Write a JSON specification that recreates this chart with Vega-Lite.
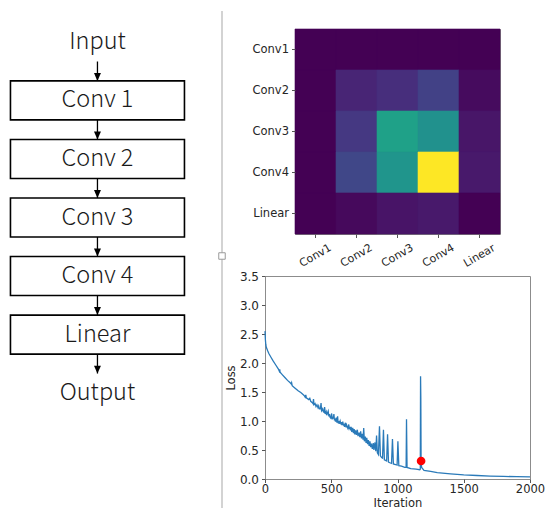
{
  "$schema": "https://vega.github.io/schema/vega-lite/v6.json",
  "padding": {"left": 0, "top": 10, "right": 0, "bottom": 0},
  "background": "white",
  "config": {
    "view": {"stroke": null},
    "font": "DejaVu Sans",
    "axis": {
      "labelFont": "DejaVu Sans",
      "titleFont": "DejaVu Sans",
      "labelColor": "#262626",
      "titleColor": "#262626",
      "tickColor": "#555555",
      "titleFontWeight": "normal",
      "grid": false,
      "domain": false
    }
  },
  "datasets": {
    "nodes": [
      {"node": "Input", "kind": "io"},
      {"node": "Conv 1", "kind": "box"},
      {"node": "Conv 2", "kind": "box"},
      {"node": "Conv 3", "kind": "box"},
      {"node": "Conv 4", "kind": "box"},
      {"node": "Linear", "kind": "box"},
      {"node": "Output", "kind": "io"}
    ],
    "edges": [
      {"from": "Input", "to": "Conv 1"},
      {"from": "Conv 1", "to": "Conv 2"},
      {"from": "Conv 2", "to": "Conv 3"},
      {"from": "Conv 3", "to": "Conv 4"},
      {"from": "Conv 4", "to": "Linear"},
      {"from": "Linear", "to": "Output"}
    ],
    "heat": [
      {"row": "Conv1", "col": "Conv1", "value": 0.0},
      {"row": "Conv1", "col": "Conv2", "value": 0.0},
      {"row": "Conv1", "col": "Conv3", "value": 0.0},
      {"row": "Conv1", "col": "Conv4", "value": 0.0},
      {"row": "Conv1", "col": "Linear", "value": 0.0},
      {"row": "Conv2", "col": "Conv1", "value": 0.0},
      {"row": "Conv2", "col": "Conv2", "value": 0.1},
      {"row": "Conv2", "col": "Conv3", "value": 0.13},
      {"row": "Conv2", "col": "Conv4", "value": 0.19},
      {"row": "Conv2", "col": "Linear", "value": 0.025},
      {"row": "Conv3", "col": "Conv1", "value": 0.0},
      {"row": "Conv3", "col": "Conv2", "value": 0.16},
      {"row": "Conv3", "col": "Conv3", "value": 0.57},
      {"row": "Conv3", "col": "Conv4", "value": 0.5},
      {"row": "Conv3", "col": "Linear", "value": 0.055},
      {"row": "Conv4", "col": "Conv1", "value": 0.0},
      {"row": "Conv4", "col": "Conv2", "value": 0.21},
      {"row": "Conv4", "col": "Conv3", "value": 0.52},
      {"row": "Conv4", "col": "Conv4", "value": 1.0},
      {"row": "Conv4", "col": "Linear", "value": 0.065},
      {"row": "Linear", "col": "Conv1", "value": 0.0},
      {"row": "Linear", "col": "Conv2", "value": 0.02},
      {"row": "Linear", "col": "Conv3", "value": 0.05},
      {"row": "Linear", "col": "Conv4", "value": 0.065},
      {"row": "Linear", "col": "Linear", "value": 0.0}
    ],
    "loss": [
      {"iter": 0, "loss": 2.55}, {"iter": 3, "loss": 2.4}, {"iter": 6, "loss": 2.32}, {"iter": 10, "loss": 2.27},
      {"iter": 20, "loss": 2.21}, {"iter": 30, "loss": 2.16}, {"iter": 45, "loss": 2.1}, {"iter": 60, "loss": 2.04},
      {"iter": 80, "loss": 1.97}, {"iter": 100, "loss": 1.9}, {"iter": 108, "loss": 1.86}, {"iter": 111, "loss": 1.89},
      {"iter": 114, "loss": 1.84}, {"iter": 130, "loss": 1.8}, {"iter": 150, "loss": 1.75}, {"iter": 170, "loss": 1.7},
      {"iter": 190, "loss": 1.66}, {"iter": 198, "loss": 1.64}, {"iter": 201, "loss": 1.66}, {"iter": 205, "loss": 1.61},
      {"iter": 225, "loss": 1.57}, {"iter": 250, "loss": 1.52}, {"iter": 270, "loss": 1.49}, {"iter": 285, "loss": 1.46},
      {"iter": 295, "loss": 1.44}, {"iter": 303, "loss": 1.41}, {"iter": 308, "loss": 1.45}, {"iter": 312, "loss": 1.4},
      {"iter": 330, "loss": 1.37}, {"iter": 338, "loss": 1.39}, {"iter": 345, "loss": 1.34}, {"iter": 355, "loss": 1.32}, {"iter": 362, "loss": 1.3},
      {"iter": 366, "loss": 1.38}, {"iter": 370, "loss": 1.28}, {"iter": 378, "loss": 1.3}, {"iter": 385, "loss": 1.25}, {"iter": 392, "loss": 1.28}, {"iter": 400, "loss": 1.23},
      {"iter": 405, "loss": 1.26}, {"iter": 410, "loss": 1.21}, {"iter": 418, "loss": 1.21}, {"iter": 423, "loss": 1.31}, {"iter": 427, "loss": 1.18},
      {"iter": 435, "loss": 1.21}, {"iter": 440, "loss": 1.16}, {"iter": 445, "loss": 1.15}, {"iter": 450, "loss": 1.24}, {"iter": 455, "loss": 1.12},
      {"iter": 462, "loss": 1.16}, {"iter": 466, "loss": 1.1}, {"iter": 470, "loss": 1.13}, {"iter": 477, "loss": 1.17}, {"iter": 482, "loss": 1.08},
      {"iter": 487, "loss": 1.12}, {"iter": 490, "loss": 1.07}, {"iter": 497, "loss": 1.05}, {"iter": 503, "loss": 1.13}, {"iter": 508, "loss": 1.03},
      {"iter": 512, "loss": 1.07}, {"iter": 515, "loss": 1.04}, {"iter": 520, "loss": 1.12}, {"iter": 524, "loss": 1.01}, {"iter": 528, "loss": 1.04}, {"iter": 532, "loss": 0.99},
      {"iter": 538, "loss": 1.06}, {"iter": 543, "loss": 0.97}, {"iter": 548, "loss": 1.08}, {"iter": 552, "loss": 0.96},
      {"iter": 556, "loss": 1.0}, {"iter": 560, "loss": 0.95}, {"iter": 567, "loss": 1.0}, {"iter": 573, "loss": 0.94}, {"iter": 577, "loss": 0.98}, {"iter": 580, "loss": 0.93},
      {"iter": 587, "loss": 0.99}, {"iter": 592, "loss": 0.92}, {"iter": 596, "loss": 0.95}, {"iter": 600, "loss": 0.9}, {"iter": 607, "loss": 0.97},
      {"iter": 612, "loss": 0.89}, {"iter": 616, "loss": 0.93}, {"iter": 620, "loss": 0.9}, {"iter": 626, "loss": 0.87}, {"iter": 632, "loss": 0.94},
      {"iter": 637, "loss": 0.86}, {"iter": 641, "loss": 0.9}, {"iter": 645, "loss": 0.84}, {"iter": 650, "loss": 0.9}, {"iter": 655, "loss": 0.81},
      {"iter": 662, "loss": 0.88}, {"iter": 668, "loss": 0.79}, {"iter": 673, "loss": 0.86}, {"iter": 678, "loss": 0.77},
      {"iter": 684, "loss": 0.84}, {"iter": 690, "loss": 0.76}, {"iter": 697, "loss": 0.85}, {"iter": 702, "loss": 0.74},
      {"iter": 710, "loss": 0.8}, {"iter": 716, "loss": 0.72}, {"iter": 722, "loss": 0.82}, {"iter": 728, "loss": 0.7},
      {"iter": 735, "loss": 0.78}, {"iter": 740, "loss": 0.68}, {"iter": 745, "loss": 0.88}, {"iter": 750, "loss": 0.65},
      {"iter": 757, "loss": 0.73}, {"iter": 763, "loss": 0.62}, {"iter": 768, "loss": 0.71}, {"iter": 774, "loss": 0.6},
      {"iter": 780, "loss": 0.67}, {"iter": 786, "loss": 0.57}, {"iter": 792, "loss": 0.65}, {"iter": 797, "loss": 0.55},
      {"iter": 803, "loss": 0.61}, {"iter": 810, "loss": 0.52}, {"iter": 817, "loss": 0.62}, {"iter": 822, "loss": 0.5},
      {"iter": 830, "loss": 0.63}, {"iter": 836, "loss": 0.48}, {"iter": 842, "loss": 0.75}, {"iter": 848, "loss": 0.45},
      {"iter": 856, "loss": 0.42}, {"iter": 864, "loss": 0.91}, {"iter": 871, "loss": 0.4}, {"iter": 880, "loss": 0.37},
      {"iter": 887, "loss": 0.36}, {"iter": 894, "loss": 0.85}, {"iter": 901, "loss": 0.33}, {"iter": 910, "loss": 0.32},
      {"iter": 918, "loss": 0.31}, {"iter": 925, "loss": 0.77}, {"iter": 932, "loss": 0.29}, {"iter": 942, "loss": 0.28},
      {"iter": 955, "loss": 0.27}, {"iter": 962, "loss": 0.69}, {"iter": 969, "loss": 0.26}, {"iter": 985, "loss": 0.25},
      {"iter": 997, "loss": 0.24}, {"iter": 1003, "loss": 0.65}, {"iter": 1010, "loss": 0.23}, {"iter": 1030, "loss": 0.22},
      {"iter": 1055, "loss": 0.2}, {"iter": 1065, "loss": 0.2}, {"iter": 1068, "loss": 1.03}, {"iter": 1072, "loss": 0.2},
      {"iter": 1100, "loss": 0.18}, {"iter": 1140, "loss": 0.17}, {"iter": 1168, "loss": 0.16}, {"iter": 1172, "loss": 0.17},
      {"iter": 1174, "loss": 1.77}, {"iter": 1176, "loss": 1.4}, {"iter": 1178, "loss": 0.3}, {"iter": 1182, "loss": 0.2},
      {"iter": 1200, "loss": 0.15}, {"iter": 1250, "loss": 0.13}, {"iter": 1300, "loss": 0.11}, {"iter": 1400, "loss": 0.09},
      {"iter": 1500, "loss": 0.07}, {"iter": 1600, "loss": 0.06}, {"iter": 1700, "loss": 0.05}, {"iter": 1800, "loss": 0.045},
      {"iter": 1900, "loss": 0.04}, {"iter": 2000, "loss": 0.035}
    ],
    "marker": [{"iter": 1178, "loss": 0.31}]
  },
  "bounds": "flush",
  "spacing": 43,
  "hconcat": [
    {
      "width": 222,
      "height": 377,
      "view": {"stroke": null},
      "resolve": {"scale": {"y": "independent"}},
      "layer": [
        {
          "data": {"values": [{"part": "separator"}]},
          "layer": [
            {
              "mark": {"type": "rule", "color": "#c4c4c4", "strokeWidth": 1.5},
              "encoding": {
                "x": {"datum": 1, "type": "quantitative", "scale": {"domain": [0, 1], "nice": false, "zero": false}, "axis": null},
                "y": {"datum": -0.04775, "type": "quantitative", "scale": {"domain": [0, 1], "reverse": true, "nice": false, "zero": false}, "axis": null},
                "y2": {"datum": 1.27321}
              }
            },
            {
              "mark": {"type": "point", "shape": "square", "size": 42, "filled": true, "fill": "white", "stroke": "#9a9a9a", "strokeWidth": 1, "opacity": 1},
              "encoding": {
                "x": {"datum": 1, "type": "quantitative"},
                "y": {"datum": 0.60212, "type": "quantitative"}
              }
            }
          ]
        },
        {
          "layer": [
            {
              "data": {"name": "edges"},
              "mark": {"type": "rule", "color": "black", "strokeWidth": 1.3},
              "encoding": {
                "x": {"datum": 0.439, "type": "quantitative"},
                "y": {"field": "from", "type": "nominal", "scale": {"type": "point", "padding": 0.22, "domain": ["Input", "Conv 1", "Conv 2", "Conv 3", "Conv 4", "Linear", "Output"]}, "axis": null},
                "y2": {"field": "to"}
              }
            },
            {
              "data": {"name": "nodes"},
              "mark": {"type": "point", "shape": "M-1,-0.2241L1,-0.2241L1,0.2241L-1,0.2241Z", "size": 30276, "filled": true, "fill": "white", "stroke": "black", "strokeWidth": 1.6, "opacity": 1},
              "encoding": {
                "x": {"datum": 0.439, "type": "quantitative"},
                "y": {"field": "node", "type": "nominal"},
                "strokeOpacity": {"field": "kind", "type": "nominal", "scale": {"domain": ["box", "io"], "range": [1, 0]}, "legend": null}
              }
            },
            {
              "data": {"name": "edges"},
              "mark": {"type": "point", "shape": "M-0.04,-0.316L0.04,-0.316L0,-0.2241Z", "size": 30276, "filled": true, "fill": "black", "strokeWidth": 0, "opacity": 1},
              "encoding": {
                "x": {"datum": 0.439, "type": "quantitative"},
                "y": {"field": "to", "type": "nominal"}
              }
            },
            {
              "data": {"name": "nodes"},
              "mark": {"type": "text", "font": "Noto Sans CJK JP", "fontSize": 23.5, "fontWeight": 300, "align": "center", "baseline": "middle", "color": "#1a1a1a"},
              "encoding": {
                "x": {"datum": 0.439, "type": "quantitative"},
                "y": {"field": "node", "type": "nominal"},
                "text": {"field": "node"}
              }
            }
          ]
        }
      ]
    },
    {
      "bounds": "flush",
      "center": true,
      "spacing": 42,
      "vconcat": [
        {
          "width": 205,
          "height": 205,
          "view": {"stroke": "#808080", "strokeWidth": 1},
          "data": {"name": "heat"},
          "mark": {"type": "rect", "strokeWidth": 0.6},
          "encoding": {
            "x": {
              "field": "col", "type": "nominal",
              "sort": ["Conv1", "Conv2", "Conv3", "Conv4", "Linear"],
              "axis": {"title": null, "labelAngle": -30, "labelAlign": "center", "labelBaseline": "middle", "labelPadding": 18, "tickSize": 3.5, "labelFontSize": 11}
            },
            "y": {
              "field": "row", "type": "nominal",
              "sort": ["Conv1", "Conv2", "Conv3", "Conv4", "Linear"],
              "axis": {"title": null, "tickSize": 3.5, "labelPadding": 3, "labelFontSize": 11.5}
            },
            "color": {"field": "value", "type": "quantitative", "scale": {"scheme": "viridis", "domain": [0, 1]}, "legend": null},
            "stroke": {"field": "value", "type": "quantitative", "scale": {"scheme": "viridis", "domain": [0, 1]}, "legend": null}
          }
        },
        {
          "width": 265,
          "height": 203,
          "view": {"stroke": "#8c8c8c", "strokeWidth": 1},
          "encoding": {
            "x": {
              "field": "iter", "type": "quantitative",
              "scale": {"domain": [0, 2000], "nice": false},
              "axis": {"title": "Iteration", "values": [0, 500, 1000, 1500, 2000], "format": "d", "labelFlush": false, "tickSize": 3.5, "labelPadding": 1, "titlePadding": 2, "labelFontSize": 11.5, "titleFontSize": 11.5}
            },
            "y": {
              "field": "loss", "type": "quantitative",
              "scale": {"domain": [0, 3.5], "nice": false, "zero": true},
              "axis": {"title": "Loss", "values": [0, 0.5, 1, 1.5, 2, 2.5, 3, 3.5], "format": ".1f", "tickSize": 3.5, "labelPadding": 3, "titlePadding": 3, "labelFontSize": 12, "titleFontSize": 11.5}
            }
          },
          "layer": [
            {
              "data": {"name": "loss"},
              "mark": {"type": "line", "color": "#2a7ab9", "strokeWidth": 1.3}
            },
            {
              "data": {"name": "marker"},
              "mark": {"type": "circle", "color": "#ff0000", "size": 75, "opacity": 1}
            }
          ]
        }
      ]
    }
  ]
}
